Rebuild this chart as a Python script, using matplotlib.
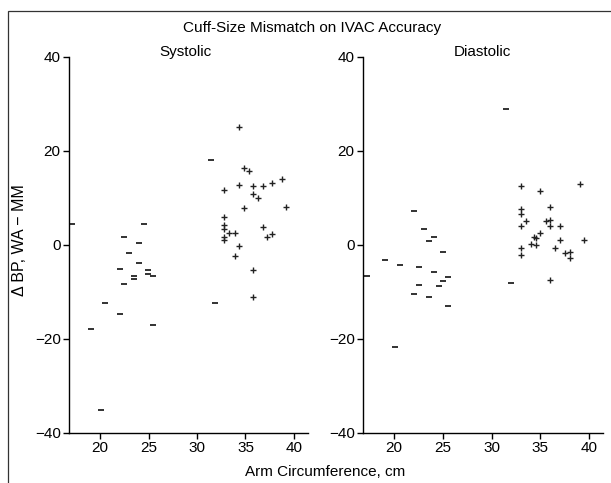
import matplotlib
matplotlib.use('Agg')
import matplotlib.pyplot as plt
from matplotlib.patches import Rectangle

plt.rcParams['font.family'] = ['Liberation Sans', 'DejaVu Sans']

# Systolic: arm circumference (cm) vs delta BP, split by marker type
sys_minus_x = [17.1, 24.5, 22.5, 24.05, 23.0, 24.0, 22.06, 24.95, 23.5, 24.95, 25.5, 23.5,
               22.5, 20.55, 22.06, 25.5, 19.04, 20.07, 31.44, 31.86]
sys_minus_y = [4.5, 4.5, 1.6, 0.5, -1.8, -3.9, -5.0, -5.3, -6.5, -6.2, -6.7, -7.3,
               -8.2, -12.3, -14.7, -17.0, -17.9, -35.0, 18.0, -12.3]
sys_plus_x = [34.33, 34.81, 35.33, 38.73, 37.77, 34.3, 35.77, 36.77, 32.82, 35.77, 36.29, 39.2,
              34.81, 32.82, 32.82, 32.82, 33.33, 33.88, 36.8, 37.77, 37.2, 32.82, 32.82, 34.3,
              33.88, 35.77, 35.74]
sys_plus_y = [25.1, 16.4, 15.7, 14.1, 13.2, 12.7, 12.5, 12.5, 11.7, 10.8, 9.9, 8.0,
              7.8, 6.0, 4.2, 3.5, 2.6, 2.6, 3.8, 2.3, 1.6, 1.8, 1.0, -0.3,
              -2.3, -5.3, -11.0]

# Diastolic
dia_minus_x = [22.05, 23.08, 24.13, 23.55, 25.06, 19.08, 20.58, 22.53, 24.13, 17.2, 25.57, 25.06,
               22.53, 24.64, 22.05, 23.55, 25.57, 20.07, 31.52, 32.03]
dia_minus_y = [7.2, 3.3, 1.6, 0.9, -1.4, -3.1, -4.3, -4.6, -5.7, -6.6, -6.9, -7.6,
               -8.5, -8.7, -10.4, -11.1, -13.0, -21.7, 28.9, -8.0]
dia_plus_x = [33.03, 39.05, 35.0, 36.0, 33.03, 33.03, 33.57, 35.56, 36.0, 33.03, 36.0, 37.03,
              35.0, 34.53, 34.4, 37.03, 39.53, 34.02, 34.53, 33.03, 36.5, 37.54, 38.05, 38.05,
              33.03, 36.0]
dia_plus_y = [12.6, 13.0, 11.5, 8.1, 7.6, 6.7, 5.0, 5.0, 5.4, 4.1, 4.0, 4.0,
              2.6, 1.5, 1.7, 1.1, 1.1, 0.2, -0.1, -0.6, -0.7, -1.8, -1.5, -2.8,
              -2.2, -7.4]

fig = plt.figure(figsize=(6.11, 4.83), dpi=100)

# frame around the figure (runs off the right and bottom edges)
fig.patches.append(Rectangle((8 / 611, -0.2), 1.2, 1 - 11 / 483 + 0.2, transform=fig.transFigure,
                             fill=False, edgecolor='#333333', linewidth=0.9, clip_on=False))

ax1 = fig.add_axes([69 / 611, 1 - 433 / 483, 239 / 611, 376 / 483])
ax2 = fig.add_axes([363 / 611, 1 - 433 / 483, 240 / 611, 376 / 483])

panels = [(ax1, sys_minus_x, sys_minus_y, sys_plus_x, sys_plus_y),
          (ax2, dia_minus_x, dia_minus_y, dia_plus_x, dia_plus_y)]
for ax, mx, my, px, py in panels:
    ax.plot(mx, my, linestyle='none', marker='_', markersize=4.5, markeredgewidth=1.3,
            color='#222222', clip_on=False)
    ax.plot(px, py, linestyle='none', marker='+', markersize=4.5, markeredgewidth=1.0,
            color='#222222', clip_on=False)
    ax.set_xlim(16.8, 41.45)
    ax.set_ylim(-40, 40)
    ax.set_xticks([20, 25, 30, 35, 40])
    ax.set_yticks([-40, -20, 0, 20, 40])
    ax.spines['top'].set_visible(False)
    ax.spines['right'].set_visible(False)
    ax.spines['left'].set_linewidth(1.0)
    ax.spines['bottom'].set_linewidth(1.0)
    ax.tick_params(direction='out', length=4, width=1.0, labelsize=11, pad=2)
    ax.patch.set_alpha(0)

fig.text(312 / 611, 1 - 28 / 483, 'Cuff-Size Mismatch on IVAC Accuracy', ha='center', va='center', fontsize=11)
fig.text(185 / 611, 1 - 52 / 483, 'Systolic', ha='center', va='center', fontsize=11)
fig.text(482 / 611, 1 - 52 / 483, 'Diastolic', ha='center', va='center', fontsize=11)
fig.text(20 / 611, 1 - 240 / 483, '\u0394 BP, WA \u2212 MM', ha='center', va='center', rotation=90, fontsize=11.5)
fig.text(325 / 611, 1 - 472 / 483, 'Arm Circumference, cm', ha='center', va='center', fontsize=11)

plt.savefig('out.png', dpi=100)
